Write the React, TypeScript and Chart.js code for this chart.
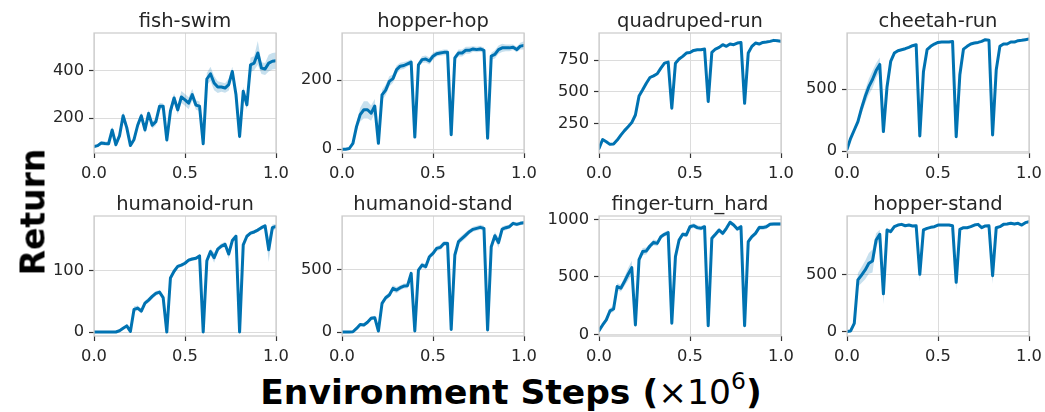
import React, { useEffect, useRef } from 'react';
import { Chart, registerables } from 'chart.js';

Chart.register(...registerables);

// ---------------- DATA ----------------
const STEPS = [
  0.0, 0.02, 0.04, 0.06, 0.08, 0.1, 0.12, 0.14, 0.16, 0.18,
  0.2, 0.22, 0.24, 0.26, 0.28, 0.3, 0.32, 0.34, 0.36, 0.38,
  0.4, 0.42, 0.44, 0.46, 0.48, 0.5, 0.52, 0.54, 0.56, 0.58,
  0.6, 0.62, 0.64, 0.66, 0.68, 0.7, 0.72, 0.74, 0.76, 0.78,
  0.8, 0.82, 0.84, 0.86, 0.88, 0.9, 0.92, 0.94, 0.96, 0.98,
  1.0,
];
const X_TICKS = [0, 0.5, 1.0];

const FISH_SWIM = [
  80, 84, 95, 93, 92, 150, 88, 125, 210, 160,
  85, 110, 170, 210, 150, 220, 170, 185, 250, 250,
  108, 230, 285, 235, 289, 277, 263, 299, 255, 250,
  92, 365, 387, 348, 331, 331, 327, 341, 397, 300,
  123, 313, 256, 425, 432, 475, 411, 407, 432, 440,
  442,
];
const FISH_SWIM_ERR = [
  6, 6, 8, 8, 8, 15, 10, 12, 18, 15,
  8, 12, 15, 15, 15, 15, 15, 15, 15, 12,
  12, 20, 20, 20, 25, 25, 25, 25, 20, 20,
  12, 25, 30, 30, 25, 20, 20, 25, 20, 20,
  15, 20, 20, 30, 30, 50, 25, 25, 35, 35,
  35,
];
const FISH_SWIM_TICKS = [200, 400];

const HOPPER_HOP = [
  0, 0, 2, 17, 66, 100, 114, 114, 104, 125,
  17, 157, 171, 196, 204, 230, 240, 242, 247, 252,
  35, 244, 259, 261, 255, 269, 276, 278, 280, 280,
  42, 264, 278, 278, 286, 286, 290, 288, 290, 286,
  32, 269, 274, 288, 293, 293, 293, 295, 288, 298,
  300,
];
const HOPPER_HOP_ERR = [
  1, 1, 2, 5, 12, 20, 25, 25, 22, 20,
  8, 15, 15, 15, 12, 12, 10, 10, 8, 8,
  6, 8, 10, 10, 10, 10, 8, 8, 8, 8,
  6, 8, 10, 10, 10, 10, 8, 8, 8, 8,
  6, 10, 12, 12, 12, 10, 10, 8, 8, 10,
  12,
];
const HOPPER_HOP_TICKS = [0, 200];

const QUADRUPED_RUN = [
  55, 125, 108, 87, 90, 121, 160, 195, 226, 258,
  318, 468, 516, 568, 613, 626, 642, 687, 726, 734,
  371, 726, 758, 779, 805, 810, 826, 831, 831, 837,
  424, 810, 837, 850, 871, 858, 876, 871, 884, 889,
  410, 805, 858, 884, 876, 889, 892, 897, 905, 902,
  897,
];
const QUADRUPED_RUN_ERR = [
  10, 10, 8, 8, 8, 8, 8, 8, 8, 10,
  12, 12, 12, 12, 12, 10, 10, 10, 10, 10,
  20, 12, 10, 10, 10, 10, 10, 10, 8, 8,
  20, 10, 8, 8, 8, 8, 8, 8, 8, 8,
  20, 10, 8, 8, 8, 8, 8, 8, 8, 8,
  8,
];
const QUADRUPED_RUN_TICKS = [250, 500, 750];

const CHEETAH_RUN = [
  14, 103, 170, 238, 346, 440, 520, 578, 650, 700,
  157, 520, 724, 792, 811, 819, 827, 838, 851, 859,
  122, 640, 819, 846, 865, 878, 881, 881, 881, 886,
  116, 616, 824, 846, 865, 873, 878, 886, 900, 895,
  130, 657, 846, 865, 865, 881, 881, 892, 895, 900,
  905,
];
const CHEETAH_RUN_ERR = [
  5, 10, 15, 25, 45, 55, 65, 70, 60, 55,
  20, 20, 10, 10, 8, 8, 8, 8, 8, 8,
  15, 20, 10, 8, 8, 8, 6, 6, 6, 6,
  15, 20, 10, 8, 8, 8, 6, 6, 6, 6,
  15, 20, 10, 8, 8, 6, 6, 6, 6, 6,
  6,
];
const CHEETAH_RUN_TICKS = [0, 500];

const HUMANOID_RUN = [
  0, 0, 0, 0, 0, 0, 0, 2, 6, 10,
  1, 37, 39, 34, 47, 52, 58, 63, 65, 56,
  0, 88, 99, 107, 109, 112, 117, 119, 120, 124,
  0, 116, 131, 121, 135, 140, 143, 127, 149, 156,
  0, 142, 156, 161, 163, 166, 170, 173, 134, 170,
  172,
];
const HUMANOID_RUN_ERR = [
  0, 0, 0, 0, 0, 0, 0, 1, 2, 3,
  1, 5, 4, 4, 4, 4, 4, 4, 3, 3,
  1, 3, 3, 3, 3, 3, 3, 3, 3, 3,
  1, 4, 5, 8, 4, 4, 4, 8, 4, 4,
  1, 4, 3, 3, 3, 3, 3, 3, 20, 5,
  4,
];
const HUMANOID_RUN_TICKS = [0, 100];

const HUMANOID_STAND = [
  0, 0, 0, 2, 29, 61, 56, 78, 110, 115,
  8, 230, 275, 297, 350, 337, 356, 369, 372, 471,
  8, 497, 537, 524, 604, 631, 671, 679, 711, 711,
  21, 618, 725, 751, 778, 805, 824, 832, 840, 832,
  16, 684, 773, 717, 826, 837, 845, 872, 864, 872,
  877,
];
const HUMANOID_STAND_ERR = [
  2, 2, 2, 5, 10, 12, 12, 15, 15, 15,
  10, 20, 20, 20, 25, 25, 20, 20, 20, 20,
  10, 20, 20, 20, 20, 20, 20, 20, 20, 20,
  15, 25, 25, 25, 25, 20, 20, 20, 20, 20,
  15, 25, 30, 40, 20, 20, 15, 15, 15, 15,
  15,
];
const HUMANOID_STAND_TICKS = [0, 500];

const FINGER_TURN_HARD = [
  32, 81, 125, 203, 220, 415, 401, 459, 522, 580,
  81, 650, 720, 725, 768, 800, 791, 849, 870, 884,
  96, 675, 820, 870, 864, 936, 945, 928, 922, 936,
  75, 835, 870, 907, 878, 922, 974, 951, 916, 936,
  75, 806, 849, 878, 928, 928, 936, 957, 959, 959,
  959,
];
const FINGER_TURN_HARD_ERR = [
  10, 15, 20, 25, 25, 30, 30, 40, 55, 60,
  20, 30, 30, 30, 25, 25, 25, 20, 20, 20,
  20, 30, 25, 20, 20, 20, 20, 20, 20, 20,
  20, 25, 20, 20, 20, 20, 20, 20, 20, 20,
  20, 25, 20, 20, 20, 20, 20, 15, 15, 15,
  15,
];
const FINGER_TURN_HARD_TICKS = [0, 500, 1000];

const HOPPER_STAND = [
  0, 6, 73, 451, 494, 538, 596, 616, 799, 849,
  330, 887, 872, 916, 930, 936, 924, 930, 922, 924,
  500, 887, 901, 910, 916, 930, 930, 930, 930, 924,
  430, 892, 907, 907, 916, 930, 936, 907, 922, 924,
  488, 907, 916, 936, 939, 945, 939, 945, 930, 951,
  959,
];
const HOPPER_STAND_ERR = [
  2, 5, 20, 60, 70, 80, 90, 100, 60, 40,
  90, 20, 15, 10, 10, 10, 10, 10, 10, 10,
  60, 15, 10, 10, 10, 10, 10, 10, 10, 10,
  70, 15, 10, 10, 10, 10, 10, 15, 10, 10,
  70, 15, 10, 10, 10, 10, 10, 10, 10, 10,
  10,
];
const HOPPER_STAND_TICKS = [0, 500];

// ---------------- STYLE / LAYOUT ----------------
const FONT = '"DejaVu Sans", Verdana, sans-serif';
const BLUE = '#0173b2';
const BAND = 'rgba(1,115,178,0.22)';
const GRID = '#dcdcdc';
const SPINE = '#cccccc';
const TICK_MARK = '#333333';
const TEXT = '#262626';

const Y_AXIS_W = 70;
const TITLE_H = 33;
const X_AXIS_H = 30;
const RIGHT_PAD = 22;
const PLOT_W = 182;
const PLOT_H = 120;
const COL_LEFTS = [94, 342, 599, 847];
const ROW_TOPS = [33, 216];

type PanelSpec = {
  title: string;
  mean: number[];
  err: number[];
  yTicks: number[];
  yMin: number;
  yMax: number;
  col: number;
  row: number;
};

const PANELS: PanelSpec[] = [
  { title: 'fish-swim', mean: FISH_SWIM, err: FISH_SWIM_ERR, yTicks: FISH_SWIM_TICKS, yMin: 53, yMax: 559, col: 0, row: 0 },
  { title: 'hopper-hop', mean: HOPPER_HOP, err: HOPPER_HOP_ERR, yTicks: HOPPER_HOP_TICKS, yMin: -11, yMax: 336, col: 1, row: 0 },
  { title: 'quadruped-run', mean: QUADRUPED_RUN, err: QUADRUPED_RUN_ERR, yTicks: QUADRUPED_RUN_TICKS, yMin: 19, yMax: 963, col: 2, row: 0 },
  { title: 'cheetah-run', mean: CHEETAH_RUN, err: CHEETAH_RUN_ERR, yTicks: CHEETAH_RUN_TICKS, yMin: -16, yMax: 954, col: 3, row: 0 },
  { title: 'humanoid-run', mean: HUMANOID_RUN, err: HUMANOID_RUN_ERR, yTicks: HUMANOID_RUN_TICKS, yMin: -6.5, yMax: 189, col: 0, row: 1 },
  { title: 'humanoid-stand', mean: HUMANOID_STAND, err: HUMANOID_STAND_ERR, yTicks: HUMANOID_STAND_TICKS, yMin: -32, yMax: 931, col: 1, row: 1 },
  { title: 'finger-turn_hard', mean: FINGER_TURN_HARD, err: FINGER_TURN_HARD_ERR, yTicks: FINGER_TURN_HARD_TICKS, yMin: -15, yMax: 1029, col: 2, row: 1 },
  { title: 'hopper-stand', mean: HOPPER_STAND, err: HOPPER_STAND_ERR, yTicks: HOPPER_STAND_TICKS, yMin: -38, yMax: 1009, col: 3, row: 1 },
];

// draws the full spine box and the panel title centred over the plot area
const boxPlugin = {
  id: 'boxPlugin',
  afterDatasetsDraw(chart: any) {
    const { ctx, chartArea } = chart;
    ctx.save();
    ctx.strokeStyle = SPINE;
    ctx.lineWidth = 1.25;
    ctx.strokeRect(chartArea.left, chartArea.top, chartArea.right - chartArea.left, chartArea.bottom - chartArea.top);
    const title = chart.options.plugins.panelTitle?.text;
    if (title) {
      ctx.fillStyle = TEXT;
      ctx.font = `19.5px ${FONT}`;
      ctx.textAlign = 'center';
      ctx.textBaseline = 'alphabetic';
      ctx.fillText(title, (chartArea.left + chartArea.right) / 2, chartArea.top - 6);
    }
    ctx.restore();
  },
};

function Panel({ spec }: { spec: PanelSpec }) {
  const ref = useRef<HTMLCanvasElement | null>(null);
  const width = Y_AXIS_W + PLOT_W + RIGHT_PAD;
  const height = TITLE_H + PLOT_H + X_AXIS_H;
  const left = COL_LEFTS[spec.col] - Y_AXIS_W;
  const top = ROW_TOPS[spec.row] - TITLE_H;

  useEffect(() => {
    if (!ref.current) return;
    const tickFont = { family: FONT, size: 16.3 };
    const low = STEPS.map((x, i) => ({ x, y: spec.mean[i] - spec.err[i] }));
    const high = STEPS.map((x, i) => ({ x, y: spec.mean[i] + spec.err[i] }));
    const mid = STEPS.map((x, i) => ({ x, y: spec.mean[i] }));
    const chart = new Chart(ref.current, {
      type: 'line',
      data: {
        datasets: [
          { data: low, borderColor: 'transparent', borderWidth: 0, pointRadius: 0, fill: false, backgroundColor: BAND },
          { data: high, borderColor: 'transparent', borderWidth: 0, pointRadius: 0, fill: '-1', backgroundColor: BAND },
          { data: mid, borderColor: BLUE, borderWidth: 3, pointRadius: 0, fill: false, tension: 0, borderJoinStyle: 'round', borderCapStyle: 'round' },
        ],
      },
      options: {
        responsive: false,
        animation: false,
        layout: { padding: { left: 0, right: RIGHT_PAD, top: TITLE_H, bottom: 0 } },
        plugins: {
          legend: { display: false },
          tooltip: { enabled: false },
          title: { display: false },
          panelTitle: { text: spec.title },
        },
        scales: {
          x: {
            type: 'linear',
            min: 0,
            max: 1,
            afterBuildTicks: (s: any) => {
              s.ticks = X_TICKS.map((v) => ({ value: v }));
            },
            afterFit: (s: any) => {
              s.height = X_AXIS_H;
            },
            ticks: {
              font: tickFont,
              color: TEXT,
              padding: 6,
              maxRotation: 0,
              autoSkip: false,
              callback: (v: any) => Number(v).toFixed(1),
            },
            grid: { color: GRID, lineWidth: 1, tickColor: TICK_MARK, tickLength: 5, tickWidth: 1.2 },
            border: { display: false },
          },
          y: {
            type: 'linear',
            min: spec.yMin,
            max: spec.yMax,
            afterBuildTicks: (s: any) => {
              s.ticks = spec.yTicks.map((v) => ({ value: v }));
            },
            afterFit: (s: any) => {
              s.width = Y_AXIS_W;
            },
            ticks: {
              font: tickFont,
              color: TEXT,
              padding: 5,
              autoSkip: false,
              callback: (v: any) => String(Math.round(Number(v))),
            },
            grid: { color: GRID, lineWidth: 1, tickColor: TICK_MARK, tickLength: 5, tickWidth: 1.2 },
            border: { display: false },
          },
        },
      },
      plugins: [boxPlugin],
    } as any);
    return () => chart.destroy();
  }, [spec]);

  return (
    <canvas
      ref={ref}
      width={width}
      height={height}
      style={{ position: 'absolute', left, top, width, height }}
    />
  );
}

export default function App() {
  return (
    <div
      style={{
        position: 'absolute',
        left: 0,
        top: 0,
        width: 1045,
        height: 412,
        background: '#ffffff',
        overflow: 'hidden',
        fontFamily: FONT,
      }}
    >
      {PANELS.map((p) => (
        <Panel key={p.title} spec={p} />
      ))}
      <div
        style={{
          position: 'absolute',
          left: 33,
          top: 212,
          transform: 'translate(-50%, -50%) rotate(-90deg)',
          font: `bold 33px ${FONT}`,
          color: '#000',
          whiteSpace: 'nowrap',
          lineHeight: 1,
        }}
      >
        Return
      </div>
      <div
        style={{
          position: 'absolute',
          left: 511,
          top: 392,
          transform: 'translate(-50%, -50%)',
          font: `bold 34.5px ${FONT}`,
          color: '#000',
          whiteSpace: 'nowrap',
          lineHeight: 1,
        }}
      >
        Environment Steps (
        <span style={{ fontWeight: 'normal' }}>
          ×10
          <span style={{ fontSize: '0.68em', position: 'relative', top: '-0.62em' }}>6</span>
        </span>
        )
      </div>
    </div>
  );
}
